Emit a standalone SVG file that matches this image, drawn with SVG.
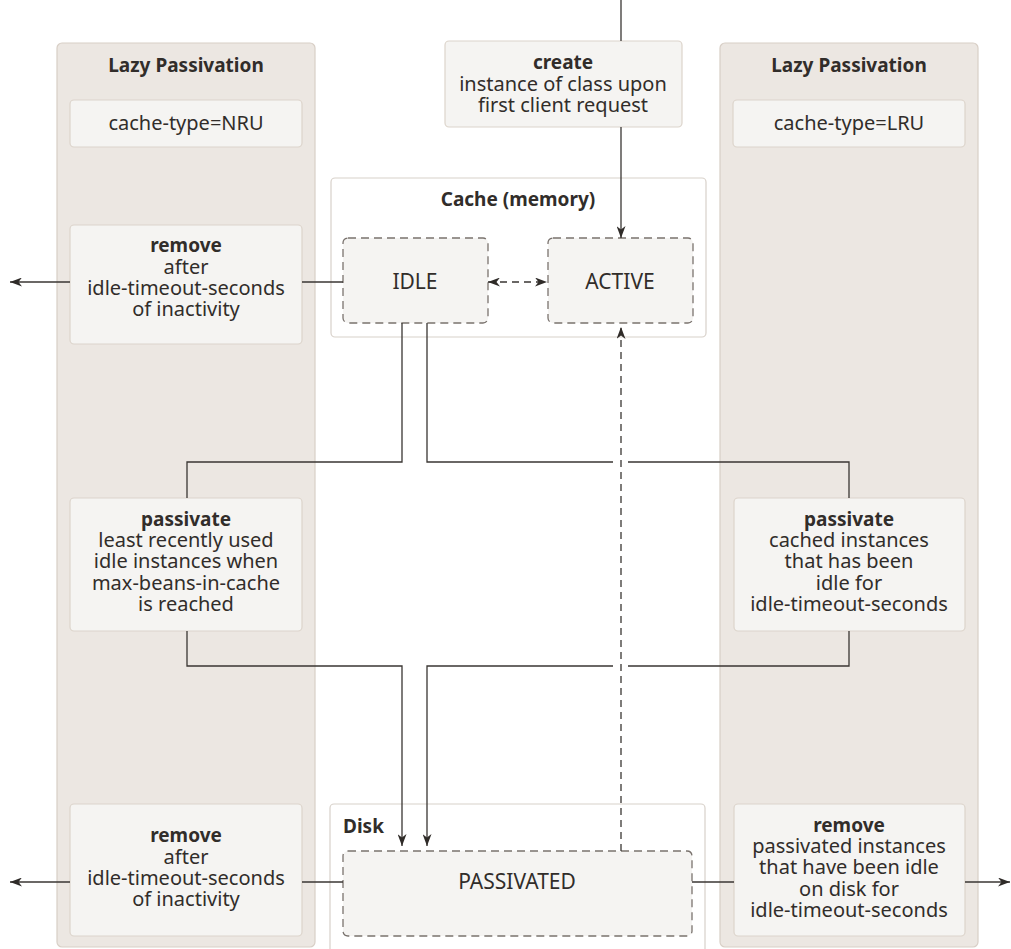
<svg xmlns="http://www.w3.org/2000/svg" width="1011" height="949" viewBox="0 0 1011 949">
<style>
.col{fill:#ece7e2;stroke:#d8cfc6;stroke-width:1.2}
.box{fill:#f5f4f2;stroke:#dcd4cb;stroke-width:1.2}
.grp{fill:#ffffff;stroke:#d8d1ca;stroke-width:1.2}
.state{fill:#f5f4f2;stroke:#7a736e;stroke-width:1.3;stroke-dasharray:8 5}
text{font-family:"Noto Sans","Open Sans","Liberation Sans",sans-serif;fill:#312d2a;text-anchor:middle}
.b{font-weight:bold;font-size:19px}
.r{font-size:20px}
.s{font-size:21px}
.ln{fill:none;stroke:#3a3633;stroke-width:1.3}
.dl{fill:none;stroke:#3a3633;stroke-width:1.3;stroke-dasharray:7 5}
</style>
<defs>
<marker id="ah" viewBox="0 0 12 9" refX="12" refY="4.5" markerWidth="12" markerHeight="9" markerUnits="userSpaceOnUse" orient="auto-start-reverse">
<path d="M0,0 L12,4.5 L0,9 L3.5,4.5 Z" fill="#2f2b28"/>
</marker>
</defs>
<g id="col-left">
<rect class="col" x="57" y="43" width="258" height="904" rx="5"/>
<text class="b" x="186" y="72">Lazy Passivation</text>
</g>
<g id="col-right">
<rect class="col" x="720" y="43" width="258" height="904" rx="5"/>
<text class="b" x="849" y="72">Lazy Passivation</text>
</g>
<g id="cache-nru">
<rect class="box" x="70" y="100" width="232" height="47" rx="4"/>
<text class="r" x="186" y="130">cache-type=NRU</text>
</g>
<g id="cache-lru">
<rect class="box" x="733" y="100" width="232" height="47" rx="4"/>
<text class="r" x="849" y="130">cache-type=LRU</text>
</g>
<g id="create">
<rect class="box" x="445" y="41" width="237" height="86" rx="4"/>
<text class="b" x="563" y="69">create</text>
<text class="r" x="563" y="91">instance of class upon</text>
<text class="r" x="563" y="112">first client request</text>
</g>
<g id="cache-memory">
<rect class="grp" x="331" y="178" width="375" height="159" rx="4"/>
<text class="b" x="518" y="206">Cache (memory)</text>
</g>
<g id="idle">
<rect class="state" x="343" y="238" width="145" height="85" rx="5"/>
<text class="s" x="415" y="289">IDLE</text>
</g>
<g id="active">
<rect class="state" x="548" y="238" width="145" height="85" rx="5"/>
<text class="s" x="620" y="289">ACTIVE</text>
</g>
<g id="remove-top-left">
<rect class="box" x="70" y="225" width="232" height="119" rx="4"/>
<text class="b" x="186" y="252">remove</text>
<text class="r" x="186" y="274">after</text>
<text class="r" x="186" y="295">idle-timeout-seconds</text>
<text class="r" x="186" y="316">of inactivity</text>
</g>
<g id="passivate-left">
<rect class="box" x="70" y="498" width="232" height="133" rx="4"/>
<text class="b" x="186" y="526">passivate</text>
<text class="r" x="186" y="547">least recently used</text>
<text class="r" x="186" y="568">idle instances when</text>
<text class="r" x="186" y="590">max-beans-in-cache</text>
<text class="r" x="186" y="611">is reached</text>
</g>
<g id="passivate-right">
<rect class="box" x="734" y="498" width="231" height="133" rx="4"/>
<text class="b" x="849" y="526">passivate</text>
<text class="r" x="849" y="547">cached instances</text>
<text class="r" x="849" y="568">that has been</text>
<text class="r" x="849" y="590">idle for</text>
<text class="r" x="849" y="611">idle-timeout-seconds</text>
</g>
<g id="disk">
<rect class="grp" x="330" y="804" width="375" height="160" rx="4"/>
<text class="b" x="343" y="833" style="text-anchor:start">Disk</text>
</g>
<g id="passivated">
<rect class="state" x="343" y="851" width="349" height="85" rx="5"/>
<text class="s" x="517" y="889">PASSIVATED</text>
</g>
<g id="remove-bottom-left">
<rect class="box" x="70" y="804" width="232" height="132" rx="4"/>
<text class="b" x="186" y="842">remove</text>
<text class="r" x="186" y="864">after</text>
<text class="r" x="186" y="885">idle-timeout-seconds</text>
<text class="r" x="186" y="906">of inactivity</text>
</g>
<g id="remove-bottom-right">
<rect class="box" x="734" y="804" width="231" height="132" rx="4"/>
<text class="b" x="849" y="832">remove</text>
<text class="r" x="849" y="853">passivated instances</text>
<text class="r" x="849" y="874">that have been idle</text>
<text class="r" x="849" y="896">on disk for</text>
<text class="r" x="849" y="917">idle-timeout-seconds</text>
</g>
<g id="connectors">
<path class="ln" d="M621,0 V41"/>
<path class="ln" d="M621,127 V238" marker-end="url(#ah)"/>
<path class="dl" d="M488,282 H547" marker-start="url(#ah)" marker-end="url(#ah)"/>
<path class="ln" d="M343,282 H302"/>
<path class="ln" d="M70,282 H10" marker-end="url(#ah)"/>
<path class="ln" d="M402,323 V462 H187 V498"/>
<path class="ln" d="M187,631 V666 H402 V846" marker-end="url(#ah)"/>
<path class="ln" d="M427,323 V462 H613"/>
<path class="ln" d="M628,462 H849 V498"/>
<path class="ln" d="M849,631 V666 H628"/>
<path class="ln" d="M613,666 H427 V846" marker-end="url(#ah)"/>
<path class="dl" d="M621,851 V327" marker-end="url(#ah)"/>
<path class="ln" d="M343,882 H302"/>
<path class="ln" d="M70,882 H10" marker-end="url(#ah)"/>
<path class="ln" d="M692,882 H734"/>
<path class="ln" d="M965,882 H1010" marker-end="url(#ah)"/>
</g>
</svg>
